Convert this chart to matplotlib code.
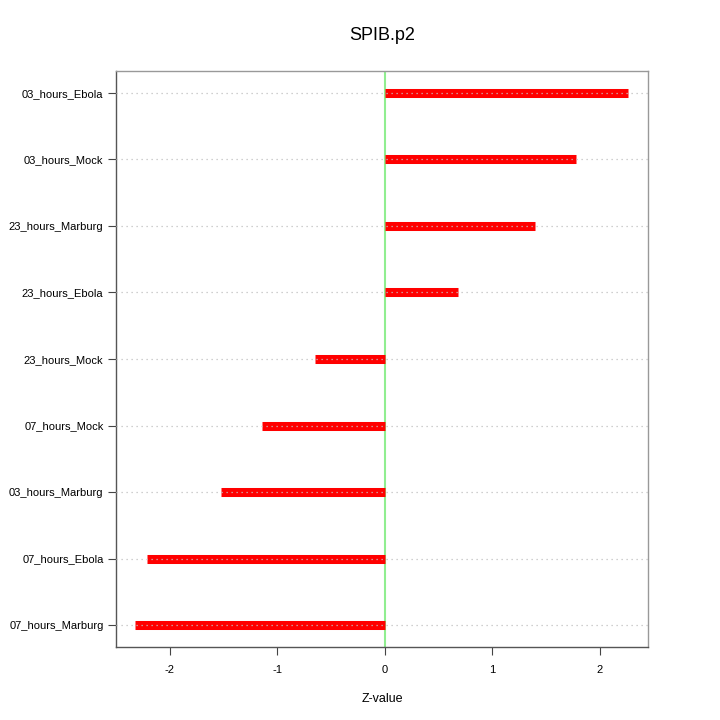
import matplotlib
matplotlib.use("Agg")
import matplotlib.pyplot as plt

# labels, top to bottom
labels = ["03_hours_Ebola", "03_hours_Mock", "23_hours_Marburg", "23_hours_Ebola",
          "23_hours_Mock", "07_hours_Mock", "03_hours_Marburg", "07_hours_Ebola",
          "07_hours_Marburg"]
zvals = [2.26, 1.78, 1.40, 0.68, -0.65, -1.14, -1.52, -2.21, -2.32]

plt.rcParams['font.family'] = ['Liberation Sans', 'DejaVu Sans']

fig = plt.figure(figsize=(7.2, 7.2), dpi=100)
ax = fig.add_axes([116/720, 1-647/720, 532/720, 576/720])

n = len(labels)
ypos = list(range(n, 0, -1))

for y in ypos:
    ax.axhline(y, color="#c0c0c0", lw=0.9, ls=(0, (1, 3)), zorder=3)
for y, v in zip(ypos, zvals):
    ax.plot([0, v], [y, y], color="red", lw=6.5, solid_capstyle="butt", zorder=2)
ax.axvline(0, color="#90ee90", lw=1.5, zorder=1)

ax.set_xlim(-2.5, 2.45)
ax.set_ylim(0.67, n + 0.33)
ax.set_yticks(ypos)
ax.set_yticklabels(labels, fontsize=8)
ax.set_xticks([-2, -1, 0, 1, 2])
ax.set_xticklabels(["-2", "-1", "0", "1", "2"], fontsize=8)
ax.tick_params(direction="out", length=6, width=0.8, color="#444444")
ax.tick_params(axis="x", pad=7)
ax.tick_params(axis="y", pad=3)
ax.tick_params(top=False, right=False)
for s in ["top", "right"]:
    ax.spines[s].set_color("#999999")
for s in ["left", "bottom"]:
    ax.spines[s].set_color("#555555")
for s in ax.spines.values():
    s.set_linewidth(1)

ax.set_xlabel("Z-value", fontsize=9, labelpad=13)
ax.set_title("SPIB.p2", fontsize=13, pad=22)

fig.savefig("out.png", dpi=100)
